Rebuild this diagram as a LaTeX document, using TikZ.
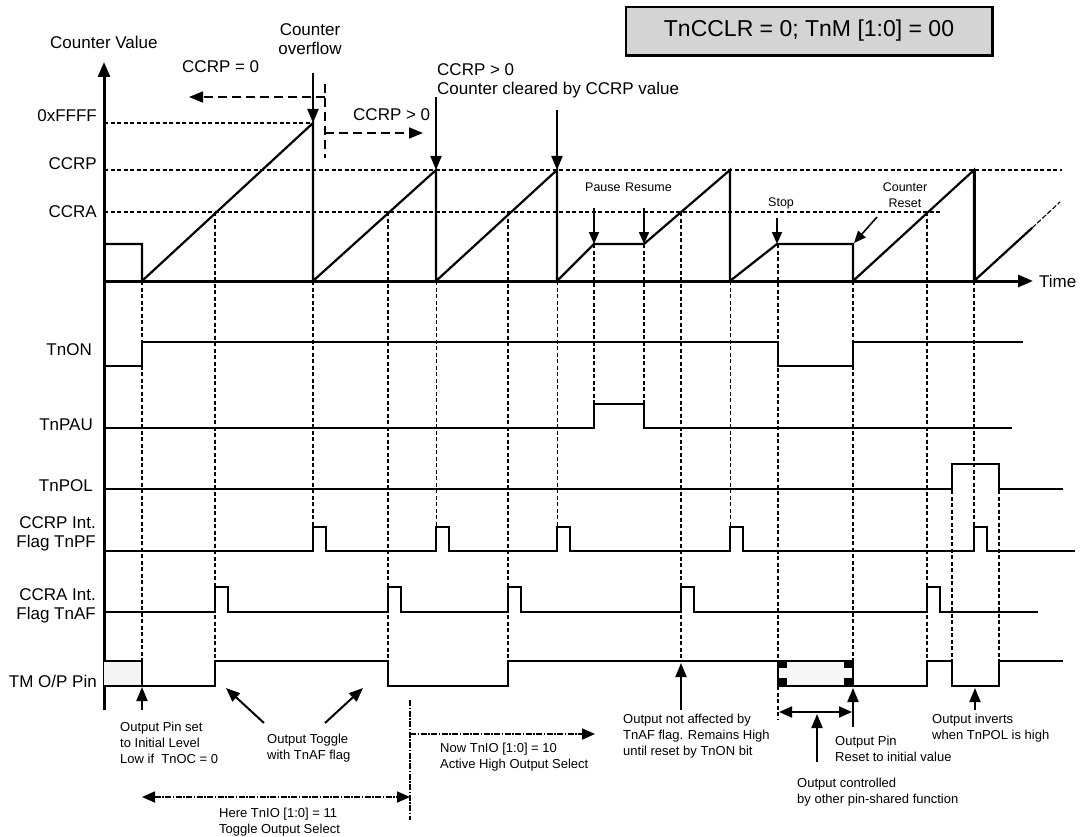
\documentclass[tikz,border=0pt]{standalone}
\usepackage{fontspec}
\setmainfont{Liberation Sans}
\usetikzlibrary{arrows.meta}

\begin{document}
\begin{tikzpicture}[x=1pt, y=-1pt,
        wave/.style={line width=2.2pt},
        guide/.style={line width=1.4pt, dash pattern=on 4pt off 2.5pt},
        thinguide/.style={line width=0.7pt, dash pattern=on 4pt off 2.5pt},
        span/.style={line width=1.6pt, dash pattern=on 9pt off 5pt},
        dotspan/.style={line width=1.8pt, dash pattern=on 6pt off 1.5pt on 1.5pt off 1.5pt},
        pointer/.style={line width=2pt, -{Triangle[length=14pt,width=11pt]}},
        tick/.style={line width=1.6pt, -{Triangle[length=12pt,width=10pt]}},
        lbl/.style={font=\fontsize{17}{19}\selectfont, inner sep=0pt},
        note/.style={font=\fontsize{13}{16}\selectfont, inner sep=0pt, align=left, anchor=north west},
        small/.style={font=\fontsize{12.5}{16}\selectfont, inner sep=0pt}]
            \useasboundingbox (0,0) rectangle (1081,837);

            \node[draw, line width=1.3pt, fill=black!17, minimum width=366pt, minimum height=48pt, font=\fontsize{23}{26}\selectfont] (mode) at (809,31) {TnCCLR = 0; TnM [1:0] = 00};
            \draw[line width=1.6pt] ([xshift=1pt]mode.north east) -- ([xshift=1pt,yshift=-1pt]mode.south east) -- ([yshift=-1pt]mode.south west);

            \draw[line width=3pt, -{Triangle[length=15pt,width=12pt]}] (104,710) -- (104,62);
            \draw[line width=3pt, -{Triangle[length=15pt,width=12pt]}] (104,281) -- (1033,281);
            \node[lbl, anchor=base west] (cntval) at (50,49) {Counter Value};
            \node[lbl, anchor=base west] (time) at (1039,287) {Time};

            \node[lbl, anchor=base east] (ffff) at (97,122) {0xFFFF};
            \node[lbl, anchor=base east] (ccrp) at (97,170) {CCRP};
            \node[lbl, anchor=base east] (ccra) at (97,218) {CCRA};
            \draw[guide] (104,123) -- (313,123);
            \draw[guide] (104,170) -- (1062,170);
            \draw[guide] (104,212) -- (940,212);

            \draw[wave] (104,244) -- (142,244) -- (142,281) -- (313,123) -- (313,281) -- (436,170) -- (436,281) -- (557,170) -- (557,281) -- (594,244) -- (644,244) -- (730,170) -- (730,281) -- (777,244) -- (853,244) -- (853,281) -- (974,170) -- (974,281) -- (1032,228);
            \draw[line width=3pt] (974,170) -- (974,281);
            \draw[line width=1.1pt, dash pattern=on 5pt off 2pt] (1032,228) -- (1060,202);

            \node[lbl, align=center, anchor=north] (ovf) at (310,23) {Counter\\overflow};
            \node[lbl, anchor=base west] (cz) at (182,73) {CCRP = 0};
            \node[lbl, anchor=base west] (cp) at (353,121) {CCRP > 0};
            \node[lbl, align=left, anchor=north west] (clr) at (437,63) {CCRP > 0\\Counter cleared by CCRP value};
            \coordinate (ovftop) at (313,73);
            \coordinate (ovfpk) at (313,123);
            \coordinate (clrtop1) at (436,97);
            \coordinate (clrpk1) at (436,170);
            \coordinate (clrtop2) at (557,110);
            \coordinate (clrpk2) at (557,170);
            \draw[pointer] (ovftop) -- (ovfpk);
            \draw[pointer] (clrtop1) -- (clrpk1);
            \draw[pointer] (clrtop2) -- (clrpk2);
            \draw[span, -{Triangle[length=14pt,width=11pt]}] (325,97) -- (189,97);
            \draw[span] (325,84) -- (325,158);
            \draw[span, -{Triangle[length=14pt,width=11pt]}] (325,133) -- (423,133);

            \node[small, anchor=base west] (pause) at (585,192) {Pause};
            \node[small, anchor=base west] (resume) at (625,192) {Resume};
            \node[small, anchor=base west] (stop) at (768,207) {Stop};
            \node[small, align=center, anchor=north] (creset) at (905,183) {Counter\\Reset};
            \draw[tick] (594,208) -- (594,244);
            \draw[tick] (644,208) -- (644,244);
            \draw[tick] (777,218) -- (777,244);
            \draw[tick] (877,217) -- (854,243);

            \node[lbl, anchor=base east] (tnon) at (92,355) {TnON};
            \node[lbl, anchor=base east] (tnpau) at (93,430) {TnPAU};
            \node[lbl, anchor=base east] (tnpol) at (93,491) {TnPOL};
            \node[lbl, align=right, anchor=north east] (tnpf) at (96,516) {CCRP Int.\\Flag TnPF};
            \node[lbl, align=right, anchor=north east] (tnaf) at (96,588) {CCRA Int.\\Flag TnAF};
            \node[lbl, anchor=base east] (pin) at (97,687) {TM O/P Pin};

            \draw[guide] (142,281) -- (142,661);
            \draw[guide] (215,212) -- (215,661);
            \draw[guide] (313,281) -- (313,527);
            \draw[guide] (388,212) -- (388,661);
            \draw[thinguide] (436,281) -- (436,527);
            \draw[guide] (508,212) -- (508,661);
            \draw[thinguide] (557,281) -- (557,527);
            \draw[guide] (594,244) -- (594,404);
            \draw[guide] (644,244) -- (644,404);
            \draw[guide] (681,212) -- (681,661);
            \draw[thinguide] (730,281) -- (730,527);
            \draw[guide] (778,244) -- (778,720);
            \draw[guide] (853,281) -- (853,661);
            \draw[guide] (927,212) -- (927,661);
            \draw[guide] (952,464) -- (952,661);
            \draw[guide] (974,281) -- (974,527);
            \draw[guide] (999,464) -- (999,661);

            \draw[wave] (104,366) -- (142,366) -- (142,342) -- (778,342) -- (778,366) -- (853,366) -- (853,342) -- (1023,342);
            \draw[wave] (104,428) -- (594,428) -- (594,404) -- (644,404) -- (644,428) -- (1012,428);
            \draw[line width=1.4pt] (104,489) -- (952,489) -- (952,464) -- (999,464) -- (999,489) -- (1063,489);
            \draw[wave] (104,551) -- (313,551) -- (313,527) -- (326,527) -- (326,551) -- (436,551) -- (436,527) -- (449,527) -- (449,551) -- (557,551) -- (557,527) -- (570,527) -- (570,551) -- (730,551) -- (730,527) -- (743,527) -- (743,551) -- (974,551) -- (974,527) -- (987,527) -- (987,551) -- (1075,551);
            \draw[wave] (104,612) -- (215,612) -- (215,587) -- (228,587) -- (228,612) -- (388,612) -- (388,587) -- (401,587) -- (401,612) -- (508,612) -- (508,587) -- (521,587) -- (521,612) -- (681,612) -- (681,587) -- (694,587) -- (694,612) -- (927,612) -- (927,587) -- (940,587) -- (940,612) -- (1038,612);

            \fill[black!4] (104,661) rectangle (142,686);
            \draw[wave] (104,661) -- (142,661) -- (142,686);
            \draw[wave] (104,686) -- (215,686) -- (215,661) -- (388,661) -- (388,686) -- (508,686) -- (508,661) -- (778,661);
            \draw[line width=1.4pt, fill=black!3] (778,661) rectangle (853,686);
            \fill (777,660) rectangle (787,668);
            \fill (777,678) rectangle (787,687);
            \fill (844,660) rectangle (854,668);
            \fill (844,678) rectangle (854,687);
            \draw[wave] (853,686) -- (927,686) -- (927,661) -- (952,661) -- (952,686) -- (999,686) -- (999,661) -- (1063,661);

            \node[note] (initlvl) at (120,722) {Output Pin set\\to Initial Level\\Low if~~TnOC = 0};
            \node[note] (toggle) at (267,734) {Output Toggle\\with TnAF flag};
            \node[note] (nowio) at (440,743) {Now TnIO [1:0] = 10\\Active High Output Select};
            \node[note] (hereio) at (219,808) {Here TnIO [1:0] = 11\\Toggle Output Select};
            \node[note] (notaff) at (623,714) {Output not affected by\\TnAF flag. Remains High\\until reset by TnON bit};
            \node[note] (pinreset) at (835,736) {Output Pin\\Reset to initial value};
            \node[note] (other) at (797,778) {Output controlled\\by other pin-shared function};
            \node[note] (inverts) at (932,714) {Output inverts\\when TnPOL is high};

            \draw[pointer] (142,710) -- (142,687);
            \draw[pointer] (264,723) -- (226,688);
            \draw[pointer] (325,723) -- (363,688);
            \draw[dotspan] (410,700) -- (410,820);
            \draw[dotspan, -{Triangle[length=13pt,width=11pt]}] (410,734) -- (595,734);
            \draw[dotspan, {Triangle[length=13pt,width=11pt]}-{Triangle[length=13pt,width=11pt]}] (142,797) -- (410,797);
            \draw[pointer] (681,710) -- (681,663);
            \draw[line width=2pt, {Triangle[length=13pt,width=11pt]}-{Triangle[length=13pt,width=11pt]}] (779,712) -- (852,712);
            \draw[pointer] (817,762) -- (817,714);
            \draw[pointer] (853,727) -- (853,688);
            \draw[pointer] (975,710) -- (975,688);
        \end{tikzpicture}
\end{document}
